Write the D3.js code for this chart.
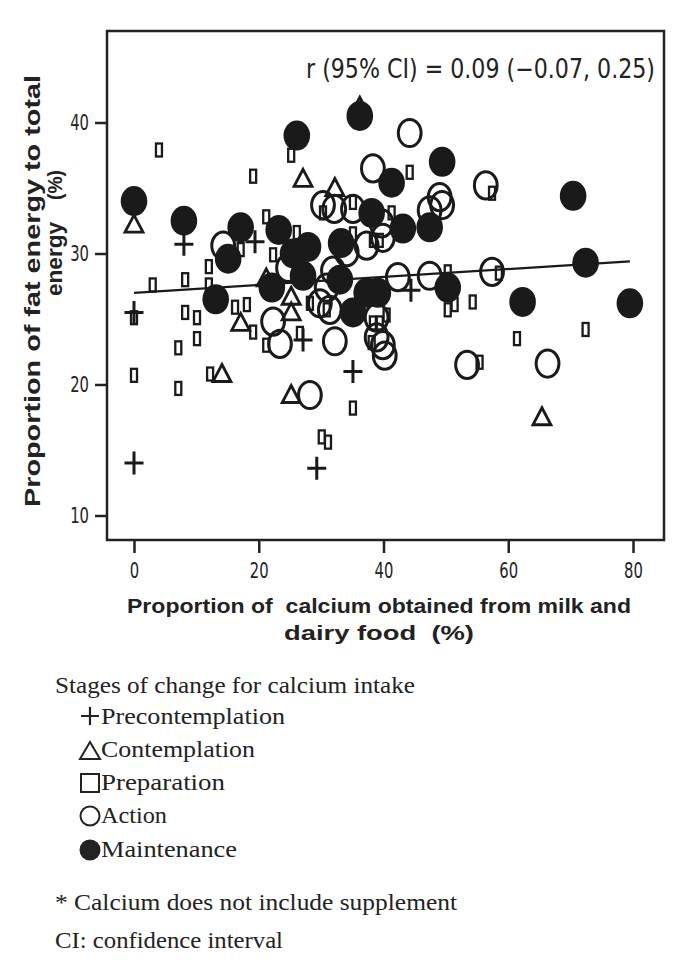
<!DOCTYPE html>
<html><head><meta charset="utf-8">
<script src="https://cdn.jsdelivr.net/npm/d3@7"></script>
<style>body{margin:0;background:#fff} svg{display:block}</style>
</head><body>
<svg id="c" width="697" height="975"></svg>
<script>
const xTicks = [0, 20, 40, 60, 80];
const yTicks = [10, 20, 30, 40];
const precontemplation = [[0,25.5],[0,14.0],[8.0,30.7],[19.4,30.9],[27.1,23.4],[35.1,21.0],[29.3,13.6],[44.4,27.2]];
const contemplation = [[0,32.2],[27.1,35.7],[32.2,35.0],[17.1,24.7],[14.1,20.8],[25.2,26.7],[25.2,25.5],[25.2,19.2],[65.4,17.5],[21.2,28.1],[36.2,41.2]];
const preparation = [[4.0,37.9],[25.2,37.5],[19.1,35.9],[44.2,36.2],[57.4,34.6],[21.2,32.8],[26.1,31.6],[30.3,33.1],[35.1,33.9],[41.3,33.1],[35.1,31.5],[38.3,31.0],[39.4,31.0],[17.1,30.3],[22.3,29.9],[12.0,29.0],[8.2,28.0],[12.0,27.6],[3.0,27.6],[50.3,28.6],[58.5,28.5],[16.2,25.9],[18.1,26.1],[8.2,25.5],[10.1,25.1],[28.2,26.2],[30.9,25.7],[50.3,25.7],[51.4,26.1],[54.3,26.3],[40.5,25.3],[38.3,24.7],[39.4,24.7],[0,25.1],[10.1,23.5],[7.1,22.8],[19.1,24.0],[21.2,23.0],[26.6,23.9],[38.1,23.2],[0,20.7],[12.2,20.8],[7.1,19.7],[35.1,18.2],[30.1,16.0],[31.1,15.6],[61.4,23.5],[72.4,24.2],[55.4,21.7]];
const action = [[44.2,39.2],[38.3,36.5],[56.4,35.2],[49.0,34.3],[49.4,33.7],[47.4,33.3],[30.3,33.7],[32.1,33.4],[35.1,33.4],[39.7,32.3],[39.9,31.2],[37.3,30.6],[14.3,30.6],[34.1,30.1],[31.9,28.7],[24.7,28.9],[30.9,27.4],[42.3,28.2],[47.4,28.3],[57.4,28.6],[22.3,24.8],[23.4,23.1],[28.2,19.2],[32.2,23.3],[29.8,26.2],[31.4,25.7],[38.9,25.1],[38.9,23.6],[39.9,23.0],[40.2,22.2],[53.4,21.5],[66.3,21.6]];
const maintenance = [[0,34.0],[8.0,32.5],[17.1,32.0],[15.1,29.6],[13.1,26.5],[23.2,31.8],[26.1,39.0],[36.2,40.5],[41.3,35.4],[49.4,37.0],[70.4,34.4],[72.4,29.3],[62.3,26.3],[79.5,26.2],[50.3,27.4],[38.1,33.1],[43.1,31.9],[47.4,32.0],[33.2,30.8],[27.9,30.5],[25.5,30.0],[27.1,28.3],[22.1,27.4],[33.0,28.0],[37.3,27.0],[39.1,27.0],[35.1,25.5]];
const fitX = [0, 79.5];
const fitY = [27.0, 29.4];
const stageNames = ["Precontemplation","Contemplation","Preparation","Action","Maintenance"];
const annotation = "r (95% CI) = 0.09 (\u22120.07, 0.25)";

const svg = d3.select("#c");
const L = 107, R = 664, T = 31, B = 540;
const x = d3.scaleLinear().domain([0, 80]).range([134, 633]);
const y = d3.scaleLinear().domain([10, 40]).range([515.5, 122.5]);
const narrow = "'Liberation Sans Narrow','Arial Narrow','DejaVu Sans Condensed','DejaVu Sans',sans-serif";
const serif = "'Liberation Serif','Times New Roman',serif";

// frame
svg.append("rect").attr("x", L).attr("y", T).attr("width", R - L).attr("height", B - T)
  .attr("fill", "none").attr("stroke", "#222").attr("stroke-width", 2.5);

// axes
const yAxis = d3.axisLeft(y).tickValues(yTicks).tickSize(12).tickPadding(6);
const gy = svg.append("g").attr("transform", `translate(${L},0)`).call(yAxis);
const xAxis = d3.axisBottom(x).tickValues(xTicks).tickSize(13).tickPadding(9);
const gx = svg.append("g").attr("transform", `translate(0,${B})`).call(xAxis);
[gx, gy].forEach(g => {
  g.select(".domain").remove();
  g.selectAll(".tick line").attr("stroke", "#222").attr("stroke-width", 2.5);
  g.selectAll(".tick text").attr("fill", "#222").style("font-family", narrow).style("font-size", "22px")
    .attr("textLength", function() { return this.textContent.length * 9.4; })
    .attr("lengthAdjust", "spacingAndGlyphs");
});

// markers
const plot = svg.append("g");
const sx = d => x(d[0]), sy = d => y(d[1]);
plot.selectAll(".act").data(action).join("ellipse").attr("class","act")
  .attr("cx", sx).attr("cy", sy).attr("rx", 11.4).attr("ry", 13.6)
  .attr("fill", "none").attr("stroke", "#1a1a1a").attr("stroke-width", 3);
plot.selectAll(".prep").data(preparation).join("rect").attr("class","prep")
  .attr("x", d => sx(d) - 3).attr("y", d => sy(d) - 6.5).attr("width", 6).attr("height", 13)
  .attr("fill", "none").attr("stroke", "#1a1a1a").attr("stroke-width", 2.3);
const tri = "M0,-9.5L9,7.5L-9,7.5Z";
plot.selectAll(".con").data(contemplation).join("path").attr("class","con")
  .attr("transform", d => `translate(${sx(d)},${sy(d)})`).attr("d", tri)
  .attr("fill", "none").attr("stroke", "#1a1a1a").attr("stroke-width", 2.8);
const plus = "M-9.5,0H9.5M0,-11.5V11.5";
plot.selectAll(".pre").data(precontemplation).join("path").attr("class","pre")
  .attr("transform", d => `translate(${sx(d)},${sy(d)})`).attr("d", plus)
  .attr("fill", "none").attr("stroke", "#1a1a1a").attr("stroke-width", 3);
// fit line
plot.append("line").attr("x1", x(fitX[0])).attr("y1", y(fitY[0])).attr("x2", x(fitX[1])).attr("y2", y(fitY[1]))
  .attr("stroke", "#1a1a1a").attr("stroke-width", 2.2);
plot.selectAll(".main").data(maintenance).join("ellipse").attr("class","main")
  .attr("cx", sx).attr("cy", sy).attr("rx", 13.3).attr("ry", 15).attr("fill", "#1a1a1a");

// annotation
svg.append("text").attr("x", 306).attr("y", 78).attr("textLength", 349).attr("lengthAdjust", "spacingAndGlyphs")
  .style("font-family", narrow).style("font-size", "26px").attr("fill", "#222").text(annotation);

// axis titles
const bold = "'Liberation Sans','Arial',sans-serif";
svg.append("text").attr("x", 127).attr("y", 613).attr("textLength", 504).attr("lengthAdjust", "spacingAndGlyphs")
  .style("font-family", bold).style("font-weight", "bold").style("font-size", "21px").style("white-space", "pre")
  .attr("fill","#222").text("Proportion of  calcium obtained from milk and");
svg.append("text").attr("x", 284).attr("y", 640).attr("textLength", 190).attr("lengthAdjust", "spacingAndGlyphs")
  .style("font-family", bold).style("font-weight", "bold").style("font-size", "21px").style("white-space", "pre")
  .attr("fill","#222").text("dairy food  (%)");
const yt = svg.append("g").attr("transform", "rotate(-90)");
yt.append("text").attr("x", -507).attr("y", 40).attr("textLength", 432).attr("lengthAdjust", "spacingAndGlyphs")
  .style("font-family", bold).style("font-weight", "bold").style("font-size", "22px").attr("fill","#222")
  .text("Proportion of fat energy to total");
yt.append("text").attr("x", -296).attr("y", 62).attr("textLength", 74).attr("lengthAdjust", "spacingAndGlyphs")
  .style("font-family", bold).style("font-weight", "bold").style("font-size", "22px").attr("fill","#222")
  .text("energy");
yt.append("text").attr("x", -200).attr("y", 62).attr("textLength", 30).attr("lengthAdjust", "spacingAndGlyphs")
  .style("font-family", bold).style("font-weight", "bold").style("font-size", "20px").attr("fill","#222")
  .text("(%)");

// legend
const lg = svg.append("g").attr("fill", "#222").style("font-family", serif).style("font-size", "24px");
lg.append("text").attr("x", 55).attr("y", 693).attr("textLength", 360).attr("lengthAdjust","spacingAndGlyphs")
  .text("Stages of change for calcium intake");
const legBase = [724, 757, 790, 823, 857];
const legEnd = [285, 255, 225, 167, 237];
const legMid = [716, 751, 783, 816, 850];
stageNames.forEach((n, i) => {
  lg.append("text").attr("x", 101).attr("y", legBase[i]).attr("textLength", legEnd[i] - 101)
    .attr("lengthAdjust","spacingAndGlyphs").text(n);
});
const lx = 90;
lg.append("path").attr("d", `M${lx-9},${legMid[0]}H${lx+9}M${lx},${legMid[0]-9}V${legMid[0]+9}`)
  .attr("stroke", "#222").attr("stroke-width", 2.2).attr("fill","none");
lg.append("path").attr("d", `M${lx},${legMid[1]-9}L${lx+10},${legMid[1]+8}L${lx-10},${legMid[1]+8}Z`)
  .attr("stroke", "#222").attr("stroke-width", 2).attr("fill","none");
lg.append("rect").attr("x", lx-9).attr("y", legMid[2]-9).attr("width", 18).attr("height", 18)
  .attr("stroke", "#222").attr("stroke-width", 2).attr("fill","none");
lg.append("circle").attr("cx", lx).attr("cy", legMid[3]).attr("r", 9.5)
  .attr("stroke", "#222").attr("stroke-width", 2).attr("fill","none");
lg.append("circle").attr("cx", lx).attr("cy", legMid[4]).attr("r", 10.5).attr("fill","#222");
lg.append("text").attr("x", 55).attr("y", 910).attr("textLength", 402).attr("lengthAdjust","spacingAndGlyphs")
  .text("* Calcium does not include supplement");
lg.append("text").attr("x", 55).attr("y", 948).attr("textLength", 228).attr("lengthAdjust","spacingAndGlyphs")
  .text("CI: confidence interval");
</script>
</body></html>
